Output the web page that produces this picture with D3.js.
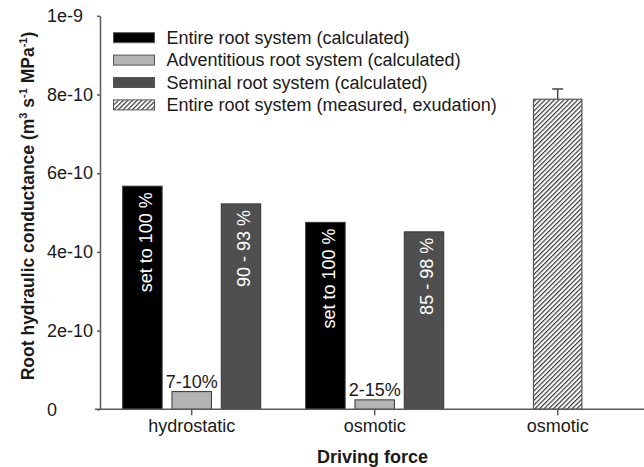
<!DOCTYPE html>
<html>
<head>
<meta charset="utf-8">
<script src="https://cdn.jsdelivr.net/npm/d3@7"></script>
<style>
	body { margin: 0; background: #fff; }
	text { font-family: "Liberation Sans", Arial, sans-serif; }
</style>
</head>
<body>
<svg id="chart" width="644" height="467"></svg>
<script>
// data
var categoryIds = ["hydro", "osm", "osmExud"],
	categoryLabels = ["hydrostatic", "osmotic", "osmotic"],
	seriesNames = ["Entire root system (calculated)", "Adventitious root system (calculated)", "Seminal root system (calculated)"],
	measuredName = "Entire root system (measured, exudation)",
	entireCalc = [5.67e-10, 4.75e-10],
	adventCalc = [4.5e-11, 2.4e-11],
	seminalCalc = [5.22e-10, 4.51e-10],
	measuredVal = [7.88e-10],
	measuredErr = [0.26e-10],
	entireLabels = ["set to 100 %", "set to 100 %"],
	adventLabels = ["7-10%", "2-15%"],
	seminalLabels = ["90 - 93 %", "85 - 98 %"],
	yTickValues = [0, 2e-10, 4e-10, 6e-10, 8e-10, 1e-9],
	yTickLabels = ["0", "2e-10", "4e-10", "6e-10", "8e-10", "1e-9"];

var fills = ["#000000", "#b4b4b4", "#4f4f4f"],
	axisColor = "#5a5a5a",
	textColor = "#1a1a1a",
	fontSize = 18;

var svg = d3.select("#chart");

// hatch pattern for the measured bar
svg.append("defs").append("pattern")
	.attr("id", "hatch")
	.attr("patternUnits", "userSpaceOnUse")
	.attr("width", 3.3)
	.attr("height", 3.3)
	.attr("patternTransform", "rotate(45)")
	.call(function(p){
		p.append("rect").attr("width", 3.3).attr("height", 3.3).attr("fill", "#fff");
		p.append("line").attr("x1", 0.6).attr("y1", 0).attr("x2", 0.6).attr("y2", 3.3)
			.attr("stroke", "#3a3a3a").attr("stroke-width", 1.2);
	});

var y = d3.scaleLinear().domain([0, 1e-9]).range([409.3, 15.8]);

var x0 = d3.scaleBand().domain(categoryIds).range([100.2, 649.2]);
var x1 = d3.scaleBand().domain(seriesNames).range([0, x0.bandwidth()])
	.paddingInner(0.2).paddingOuter(0.456);
var measuredW = 48.4;

// bars for the calculated series
var calcTable = [];
[entireCalc, adventCalc, seminalCalc].forEach(function(vals, s){
	vals.forEach(function(v, c){
		calcTable.push({cat: categoryIds[c], series: seriesNames[s], s: s, value: v});
	});
});

svg.append("g").selectAll("rect")
	.data(calcTable)
	.enter().append("rect")
	.attr("x", function(d){ return x0(d.cat) + x1(d.series); })
	.attr("y", function(d){ return y(d.value); })
	.attr("width", x1.bandwidth())
	.attr("height", function(d){ return y(0) - y(d.value); })
	.attr("fill", function(d){ return fills[d.s]; })
	.attr("stroke", "#333")
	.attr("stroke-width", 1);

// measured bar + error bar
var mx = x0("osmExud") + x0.bandwidth()/2;
svg.append("line")
	.attr("x1", mx).attr("x2", mx)
	.attr("y1", y(measuredVal[0])).attr("y2", y(measuredVal[0] + measuredErr[0]))
	.attr("stroke", "#444").attr("stroke-width", 1.5);
svg.append("line")
	.attr("x1", mx - 5.5).attr("x2", mx + 5.5)
	.attr("y1", y(measuredVal[0] + measuredErr[0])).attr("y2", y(measuredVal[0] + measuredErr[0]))
	.attr("stroke", "#444").attr("stroke-width", 1.5);
svg.append("rect")
	.attr("x", mx - measuredW/2)
	.attr("y", y(measuredVal[0]))
	.attr("width", measuredW)
	.attr("height", y(0) - y(measuredVal[0]))
	.attr("fill", "url(#hatch)")
	.attr("stroke", "#555")
	.attr("stroke-width", 1.2);

// rotated labels inside the tall bars
function insideLabels(vals, labels, series){
	vals.forEach(function(v, c){
		var cx = x0(categoryIds[c]) + x1(series) + x1.bandwidth()/2;
		svg.append("text")
			.attr("transform", "translate(" + (cx + 9.5) + "," + (y(v) + 6) + ") rotate(-90)")
			.attr("text-anchor", "end")
			.attr("fill", "#fff")
			.style("font-size", fontSize + "px")
			.text(labels[c]);
	});
}
insideLabels(entireCalc, entireLabels, seriesNames[0]);
insideLabels(seminalCalc, seminalLabels, seriesNames[2]);

// labels above the small bars
adventCalc.forEach(function(v, c){
	svg.append("text")
		.attr("x", x0(categoryIds[c]) + x1(seriesNames[1]) + x1.bandwidth()/2)
		.attr("y", y(v) - 4)
		.attr("text-anchor", "middle")
		.attr("fill", textColor)
		.style("font-size", fontSize + "px")
		.text(labels = adventLabels[c]);
});

// y axis
var yAxis = svg.append("g")
	.attr("transform", "translate(100,0)")
	.call(d3.axisLeft(y).tickValues(yTickValues).tickSize(3).tickSizeOuter(0)
		.tickFormat(function(d, i){ return yTickLabels[i]; }));
yAxis.select(".domain").attr("stroke", axisColor).attr("stroke-width", 1.5);
yAxis.selectAll(".tick line").attr("stroke", axisColor).attr("stroke-width", 1.5);
yAxis.selectAll(".tick text")
	.attr("x", -53)
	.attr("text-anchor", "start")
	.attr("fill", textColor)
	.style("font-size", fontSize + "px")
	.style("font-family", "Liberation Sans, Arial, sans-serif");

// x axis
var xAxis = svg.append("g")
	.attr("transform", "translate(0," + y(0) + ")")
	.call(d3.axisBottom(x0).tickSize(6).tickSizeOuter(0)
		.tickFormat(function(d, i){ return categoryLabels[i]; }));
xAxis.select(".domain").attr("d", "M95,0H650").attr("stroke", axisColor).attr("stroke-width", 1.5);
xAxis.selectAll(".tick line").attr("stroke", axisColor).attr("stroke-width", 1.5);
xAxis.selectAll(".tick text")
	.attr("y", 10)
	.attr("dy", "0.71em")
	.attr("fill", textColor)
	.style("font-size", fontSize + "px")
	.style("font-family", "Liberation Sans, Arial, sans-serif");

// axis titles
svg.append("text")
	.attr("x", 372.5)
	.attr("y", 463)
	.attr("text-anchor", "middle")
	.attr("fill", textColor)
	.style("font-size", "18px")
	.style("font-weight", "bold")
	.text("Driving force");

var yTitle = svg.append("text")
	.attr("transform", "translate(34,206) rotate(-90)")
	.attr("text-anchor", "middle")
	.attr("fill", textColor)
	.style("font-size", "17.5px")
	.style("font-weight", "bold");
yTitle.append("tspan").text("Root hydraulic conductance (m");
yTitle.append("tspan").attr("dy", -7).style("font-size", "11px").text("3");
yTitle.append("tspan").attr("dy", 7).text(" s");
yTitle.append("tspan").attr("dy", -7).style("font-size", "11px").text("-1");
yTitle.append("tspan").attr("dy", 7).text(" MPa");
yTitle.append("tspan").attr("dy", -7).style("font-size", "11px").text("-1");
yTitle.append("tspan").attr("dy", 7).text(")");

// legend
var legendItems = seriesNames.map(function(n, i){ return {name: n, fill: fills[i]}; })
	.concat([{name: measuredName, fill: "url(#hatch)"}]);
var legend = svg.append("g").selectAll("g")
	.data(legendItems)
	.enter().append("g")
	.attr("transform", function(d, i){ return "translate(113," + (37.7 + i*22.4) + ")"; });
legend.append("rect")
	.attr("x", 0.5).attr("y", -5)
	.attr("width", 41).attr("height", 10)
	.attr("fill", function(d){ return d.fill; })
	.attr("stroke", "#555")
	.attr("stroke-width", 1);
legend.append("text")
	.attr("x", 53.5)
	.attr("dy", "0.35em")
	.attr("fill", textColor)
	.style("font-size", fontSize + "px")
	.text(function(d){ return d.name; });
</script>
</body>
</html>
